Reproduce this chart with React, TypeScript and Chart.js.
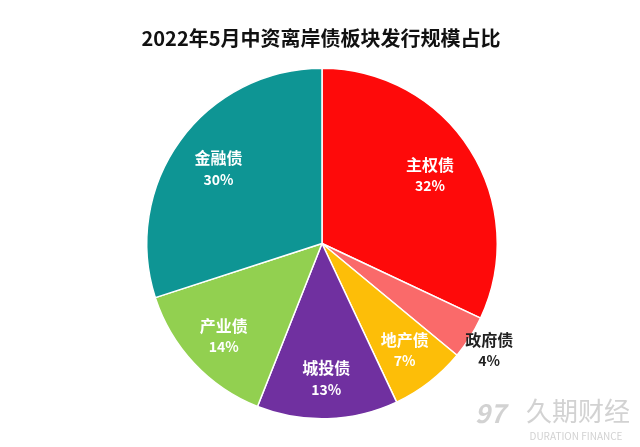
import React, { useEffect, useRef } from "react";
import { Chart, registerables } from "chart.js";

Chart.register(...registerables);

const categories = ["主权债", "政府债", "地产债", "城投债", "产业债", "金融债"];
const shares = [32, 4, 7, 13, 14, 30];
const colors = ["#FE0A0A", "#FA6A6A", "#FDBE08", "#7030A0", "#92D050", "#0E9594"];
const titleText = "2022年5月中资离岸债板块发行规模占比";
const outsideLabels = ["政府债"];

const FONT = "'Noto Sans CJK SC', 'Noto Sans', sans-serif";

const labelPlugin = {
  id: "sliceLabels",
  afterDraw(chart: any) {
    const ctx = chart.ctx;
    const meta = chart.getDatasetMeta(0);
    ctx.save();
    // title
    ctx.fillStyle = "#111";
    ctx.font = `bold 20px ${FONT}`;
    ctx.textAlign = "center";
    ctx.textBaseline = "middle";
    ctx.fillText(titleText, 321, 38);

    meta.data.forEach((arc: any, i: number) => {
      const p = arc.getProps(["x", "y", "startAngle", "endAngle", "outerRadius"], true);
      const mid = (p.startAngle + p.endAngle) / 2;
      const outside = outsideLabels.includes(categories[i]);
      const f = outside ? 1.13 : i === 0 || i === 5 ? 0.73 : 0.77;
      const cx = p.x + Math.cos(mid) * p.outerRadius * f;
      const cy = p.y + Math.sin(mid) * p.outerRadius * f;
      ctx.fillStyle = outside ? "#222" : "#ffffff";
      ctx.font = `bold 16px ${FONT}`;
      ctx.fillText(categories[i], cx, cy - 10);
      ctx.font = `bold 14px ${FONT}`;
      ctx.fillText(shares[i] + "%", cx, cy + 11);
    });

    // watermark
    ctx.fillStyle = "rgba(205,205,205,0.9)";
    ctx.font = `italic bold 26px ${FONT}`;
    ctx.fillText("97", 490, 413);
    ctx.font = `26px ${FONT}`;
    ctx.fillText("久期财经", 578, 411);
    ctx.font = `10px ${FONT}`;
    ctx.fillText("DURATION FINANCE", 576, 436);
    ctx.restore();
  },
};

export default function App() {
  const ref = useRef<HTMLCanvasElement | null>(null);
  useEffect(() => {
    document.body.style.margin = "0";
    const chart = new Chart(ref.current as HTMLCanvasElement, {
      type: "pie",
      data: {
        labels: categories,
        datasets: [
          {
            data: shares,
            backgroundColor: colors,
            borderColor: "#ffffff",
            borderWidth: 1.5,
          },
        ],
      },
      options: {
        responsive: false,
        animation: false,
        layout: { padding: { top: 67, bottom: 27, left: 146, right: 142 } },
        plugins: {
          legend: { display: false },
          tooltip: { enabled: false },
          title: { display: false },
        },
      },
      plugins: [labelPlugin],
    });
    return () => chart.destroy();
  }, []);
  return (
    <div style={{ width: 640, height: 447, background: "#fff" }}>
      <canvas ref={ref} width={640} height={447} />
    </div>
  );
}
